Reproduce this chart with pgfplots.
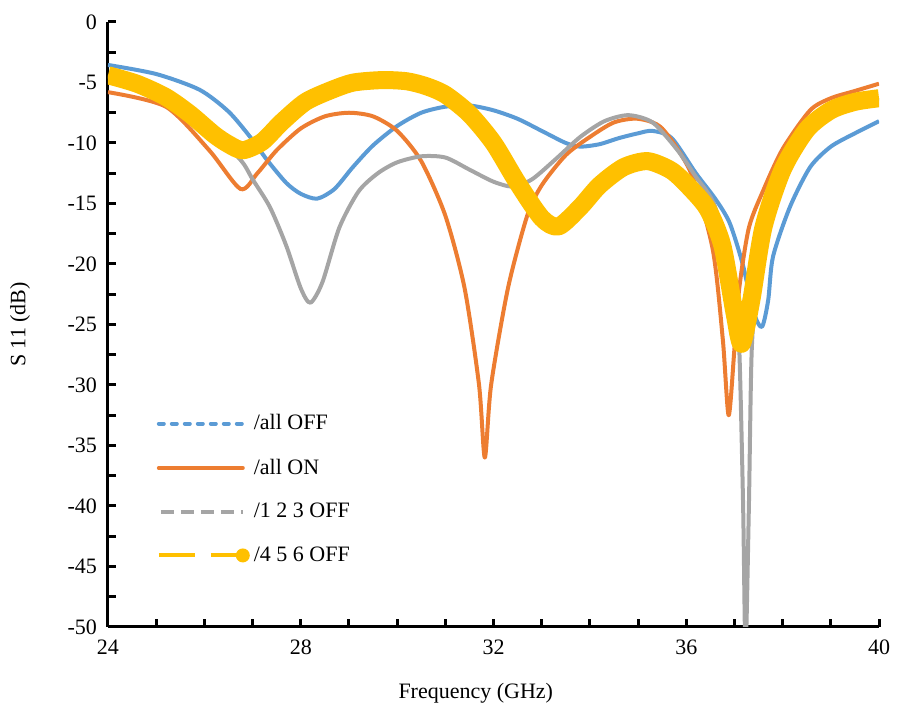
\documentclass[border=0pt]{standalone}
\usepackage{pgfplots}
\pgfplotsset{compat=1.18}
\usepackage{fontspec}
\setmainfont{Liberation Serif}
\definecolor{cblue}{HTML}{5B9BD5}
\definecolor{corange}{HTML}{ED7D31}
\definecolor{cgray}{HTML}{A5A5A5}
\definecolor{cyellow}{HTML}{FFC000}
\begin{document}
\begin{tikzpicture}
\begin{axis}[
  name=ax,
  width=385.5pt, height=302.5pt, scale only axis,
  xmin=24, xmax=40, ymin=-50, ymax=0,
  axis x line=bottom, axis y line=left,
  axis line style={-, line width=1.5pt},
  xtick={24,28,32,36,40}, minor xtick={25,26,27,29,30,31,33,34,35,37,38,39},
  ytick={-50,-45,...,0}, minor ytick={-47.5,-42.5,...,-2.5},
  tick style={black, line width=1.5pt}, major tick length=4pt, minor tick length=4pt,
  tick align=inside,
  /pgf/number format/assume math mode=true,
  ticklabel style={font=\fontsize{11}{13}\selectfont},
  xticklabel style={yshift=-3pt},
  yticklabel style={xshift=-2pt},
  xlabel={Frequency (GHz)}, ylabel={S 11 (dB)},
  label style={font=\fontsize{11}{13}\selectfont},
  xlabel style={at={(axis description cs:0.477,-0.109)}, anchor=center},
  ylabel style={at={(axis description cs:-0.114,0.5)}, anchor=center},
  legend style={at={(0.055,0.365)}, anchor=north west, draw=none, fill=none,
    font=\fontsize{11}{13}\selectfont, row sep=9pt},
  legend cell align=left,
  line join=round,
]
\addplot[cblue, line width=2pt, smooth, tension=0.45,
  legend image code/.code={\draw[cblue, line width=2pt, line cap=round, dash pattern=on 2.5pt off 4pt] (1pt,0pt) -- (43pt,0pt);}]
coordinates {
(24,-3.55)(25,-4.3)(25.9,-5.6)(26.5,-7.4)(26.95,-9.5)(27.3,-11.4)(27.7,-13.3)(28,-14.2)(28.34,-14.6)(28.7,-13.8)(29.08,-12)(29.5,-10.2)(30,-8.6)(30.5,-7.5)(31,-7.0)(31.5,-6.9)(32,-7.3)(32.5,-8.0)(33,-9.0)(33.5,-10.0)(33.8,-10.3)(34.2,-10.1)(34.6,-9.6)(35,-9.2)(35.3,-9.0)(35.7,-9.6)(36.2,-12.5)(36.6,-14.6)(36.9,-16.6)(37.17,-20)(37.4,-24)(37.57,-25.2)(37.7,-23)(37.8,-19.4)(38.15,-15.3)(38.57,-12)(39,-10.3)(39.5,-9.2)(40,-8.2)
};
\addlegendentry{/all OFF}
\addplot[corange, line width=2pt, smooth, tension=0.45,
  legend image code/.code={\draw[corange, line width=2pt, line cap=round] (1pt,0pt) -- (43pt,0pt);}]
coordinates {
(24,-5.8)(25.2,-7)(26.1,-10.6)(26.75,-13.8)(27.1,-12.5)(27.5,-10.6)(28,-8.8)(28.5,-7.8)(29,-7.5)(29.5,-7.8)(30,-9.0)(30.5,-11.5)(31,-16)(31.4,-22)(31.7,-30)(31.82,-36)(31.95,-30)(32.3,-22)(32.7,-16)(33,-13.5)(33.5,-11)(34,-9.5)(34.5,-8.3)(35,-8.0)(35.5,-8.8)(36.1,-12.5)(36.55,-18.8)(36.76,-26.3)(36.88,-32.5)(37.0,-27)(37.1,-22)(37.3,-17)(37.6,-13.9)(38,-10.5)(38.57,-7.3)(39,-6.3)(39.5,-5.7)(40,-5.1)
};
\addlegendentry{/all ON}
\addplot[cgray, line width=2pt, smooth, tension=0.45,
  legend image code/.code={\draw[cgray, line width=2pt, dash pattern=on 6.5pt off 3.5pt] (2pt,0pt) -- (43pt,0pt);}]
coordinates {
(24,-4.5)(25,-6)(26,-8.5)(26.75,-11.4)(27,-13)(27.36,-15.3)(27.7,-18.5)(28,-22)(28.2,-23.2)(28.45,-21.5)(28.8,-17)(29.2,-14)(29.6,-12.5)(30,-11.6)(30.5,-11.1)(31,-11.2)(31.5,-12.2)(32,-13.2)(32.4,-13.6)(32.8,-13)(33.3,-11.3)(33.8,-9.5)(34.3,-8.2)(34.8,-7.7)(35.3,-8.3)(35.8,-10.5)(36.2,-12.8)(36.6,-15.3)(37.0,-22)(37.1,-27)(37.18,-40)(37.23,-52)(37.3,-40)(37.36,-27)(37.5,-20)(37.8,-14)(38.2,-10.5)(38.57,-8.3)(39.2,-7.2)(40,-6.3)
};
\addlegendentry{/1 2 3 OFF}
\addplot[cyellow, line width=9pt, smooth, tension=0.45,
  legend image code/.code={\draw[cyellow, line width=2pt, dash pattern=on 18pt off 8pt] (1pt,0pt) -- (43pt,0pt); \path[fill=cyellow, draw=none] (43pt,0pt) circle[radius=3.5pt];}]
coordinates {
(24,-4.4)(24.6,-5.1)(25.2,-6.2)(25.7,-7.6)(26.2,-9.3)(26.5,-10.1)(26.8,-10.6)(27.2,-9.9)(27.6,-8.3)(28.1,-6.6)(28.65,-5.6)(29.1,-5.0)(29.7,-4.8)(30.2,-4.9)(30.6,-5.3)(31,-6.0)(31.5,-7.6)(32,-10)(32.5,-13.3)(33,-16.2)(33.35,-16.9)(33.8,-15.3)(34.2,-13.5)(34.7,-12.0)(35.2,-11.5)(35.7,-12.3)(36.1,-13.8)(36.45,-15.5)(36.75,-18.5)(37.0,-24)(37.15,-26.6)(37.35,-23)(37.6,-17)(38,-12.2)(38.5,-8.9)(39,-7.3)(39.5,-6.6)(40,-6.3)
};
\addlegendentry{/4 5 6 OFF}
\end{axis}
\pgfresetboundingbox
\path ([xshift=-54pt,yshift=-41.5pt]ax.south west) rectangle ([xshift=9pt,yshift=11pt]ax.north east);
\end{tikzpicture}
\end{document}
